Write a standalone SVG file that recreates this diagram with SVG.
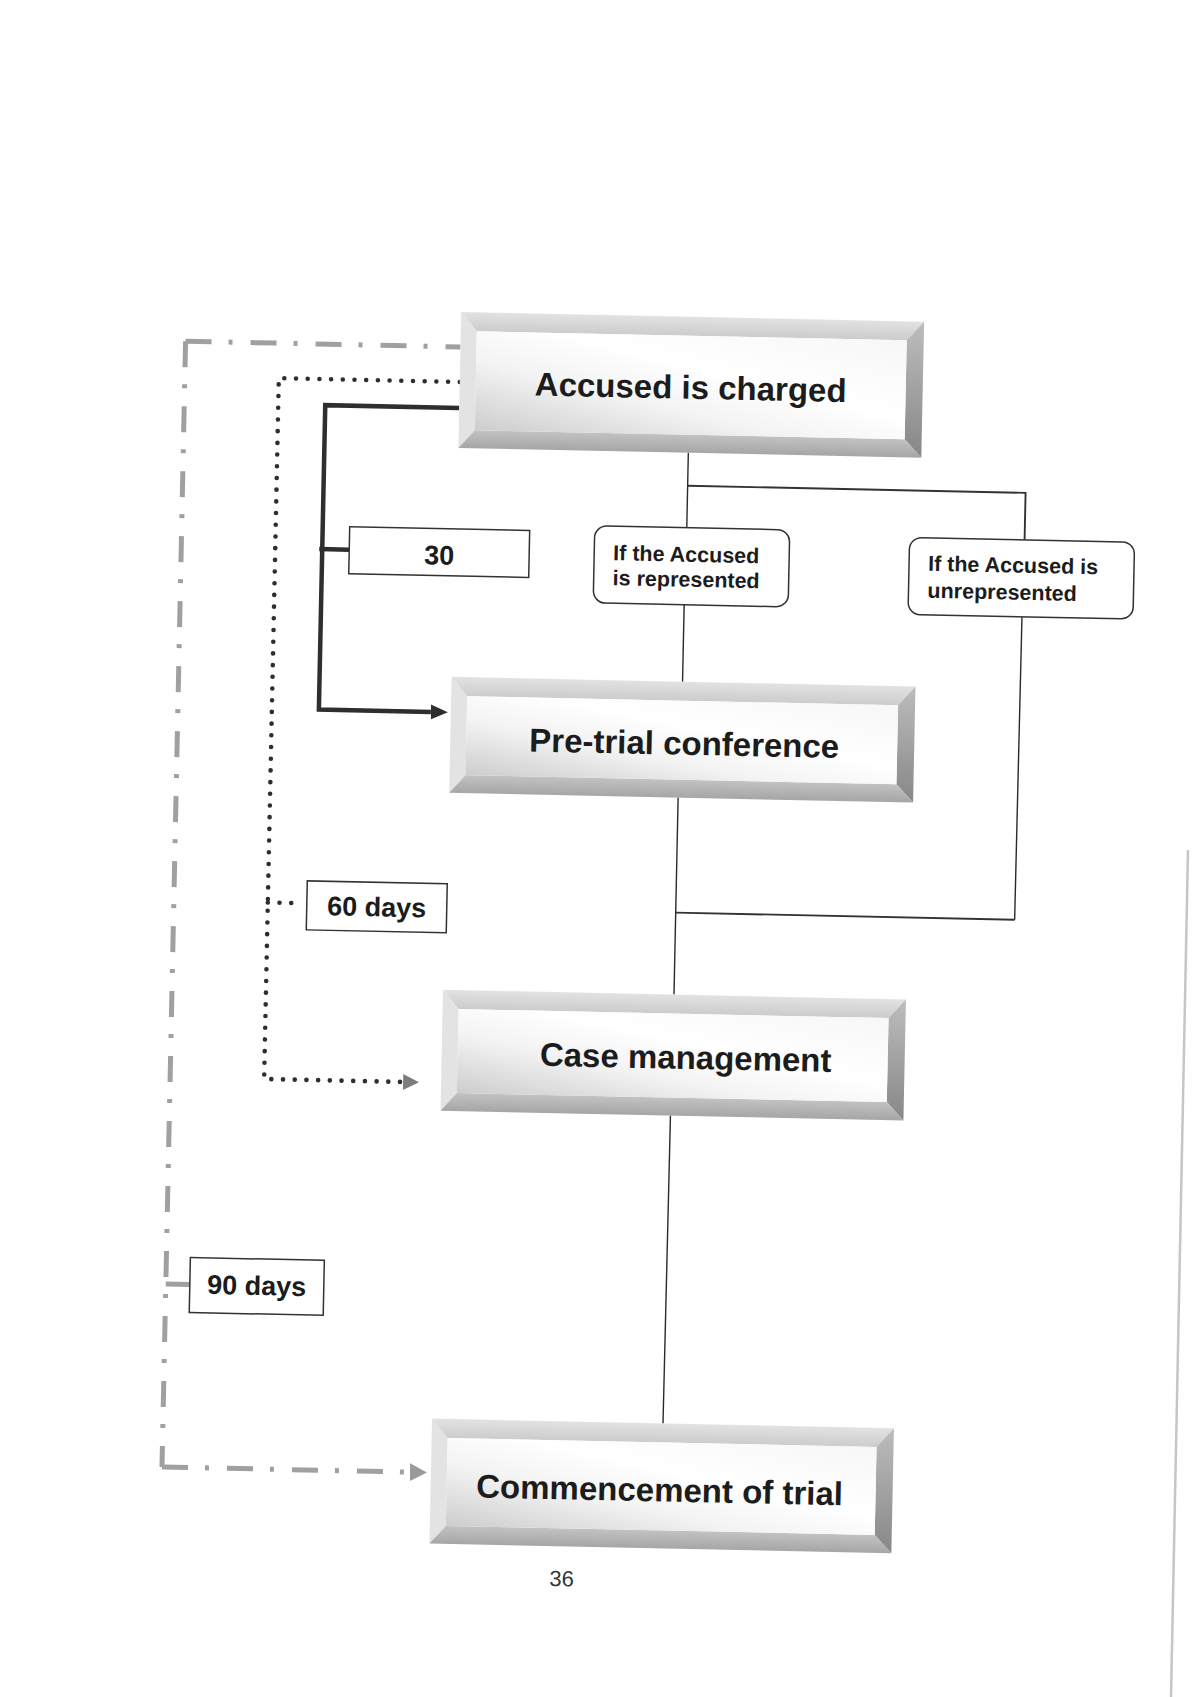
<svg xmlns="http://www.w3.org/2000/svg" width="1200" height="1697" viewBox="0 0 1200 1697">
<style>
.t{font-family:"Liberation Sans",Arial,sans-serif;font-weight:bold;fill:#1c1c1c}
.big{font-size:33px;text-anchor:middle}
.small{font-size:21.5px}
.lbl{font-size:27px;text-anchor:middle}
.num{font-size:27px;text-anchor:middle}
.pg{font-family:"Liberation Sans",Arial,sans-serif;font-size:22px;fill:#333;text-anchor:middle}
.bt{fill:url(#gTop)}
.bl{fill:#e3e3e3}
.br{fill:url(#gRight)}
.bb{fill:url(#gBot)}
.face{fill:url(#gFace)}
.thin{fill:none;stroke:#2a2a2a;stroke-width:1.4}
.fork{fill:none;stroke:#333;stroke-width:1.9}
.thick{fill:none;stroke:#2e2e2e;stroke-width:4.5}
.dot{fill:none;stroke:#2e2e2e;stroke-width:4.6;stroke-linecap:round;stroke-dasharray:0 11.7}
.dd{fill:none;stroke:#a0a0a0;stroke-width:5;stroke-dasharray:26 17 4 18}
.ddsolid{fill:none;stroke:#a0a0a0;stroke-width:5}
.box{fill:#fff;stroke:#333;stroke-width:1.5}
</style>
<defs>
<linearGradient id="gFace" x1="0" y1="1" x2="1" y2="0">
<stop offset="0" stop-color="#cdcdcd"/>
<stop offset="0.35" stop-color="#f3f3f3"/>
<stop offset="0.6" stop-color="#ffffff"/>
<stop offset="1" stop-color="#f7f7f7"/>
</linearGradient>
<linearGradient id="gTop" x1="0" y1="0" x2="0" y2="1">
<stop offset="0" stop-color="#e2e2e2"/>
<stop offset="1" stop-color="#cccccc"/>
</linearGradient>
<linearGradient id="gRight" x1="0" y1="0" x2="0" y2="1">
<stop offset="0" stop-color="#bdbdbd"/>
<stop offset="1" stop-color="#878787"/>
</linearGradient>
<linearGradient id="gBot" x1="0" y1="0" x2="0" y2="1">
<stop offset="0" stop-color="#c2c2c2"/>
<stop offset="1" stop-color="#a6a6a6"/>
</linearGradient>
<marker id="aThick" markerUnits="userSpaceOnUse" markerWidth="17" markerHeight="18" refX="0" refY="9" orient="auto">
<path d="M0,1.5 L17,9 L0,16.5 z" fill="#2e2e2e"/>
</marker>
<marker id="aDot" markerUnits="userSpaceOnUse" markerWidth="16" markerHeight="18" refX="0" refY="9" orient="auto">
<path d="M0,1 L16,9 L0,17 z" fill="#7d7d7d"/>
</marker>
<marker id="aDD" markerUnits="userSpaceOnUse" markerWidth="17" markerHeight="20" refX="0" refY="10" orient="auto">
<path d="M0,1 L17,10 L0,19 z" fill="#9a9a9a"/>
</marker>
</defs>
<rect width="1200" height="1697" fill="#ffffff"/>
<g transform="rotate(1.2 600 850)">
<g id="connectors">
<path class="thick" d="M450 411 L316 411 L316 715.5 L428 715.5" marker-end="url(#aThick)"/>
<path class="thick" d="M313 555 L343 555"/>
<path class="dot" d="M450 385 L269 385 L269 1086 L408 1086" marker-end="url(#aDot)"/>
<path class="dot" d="M269 909.5 L296 909.5"/>
<path class="dd" d="M175 350 L450 350"/>
<path class="dd" d="M175 350 L175 1476"/>
<path class="dd" d="M175 1476 L423 1476" marker-end="url(#aDD)"/>
<path class="ddsolid" d="M175 1293 L199 1293"/>
<path class="thin" d="M680 451 L680 526"/>
<path class="fork" d="M680 484 L1018 484 L1018 531"/>
<path class="thin" d="M679 603 L679 680"/>
<path class="thin" d="M1017 608 L1016 911"/>
<path class="fork" d="M1016 911 L677 911"/>
<path class="thin" d="M677 796 L677 993"/>
<path class="thin" d="M676 1114 L675 1422"/>
</g>
<g id="node-accused">
<polygon class="bt" points="450,315 913,315 896,334 466,334"/>
<polygon class="bl" points="450,315 466,334 466,433 450,451"/>
<polygon class="br" points="913,315 913,451 896,433 896,334"/>
<polygon class="bb" points="450,451 913,451 896,433 466,433"/>
<rect class="face" x="466" y="334" width="430" height="99"/>
<text class="t big" x="681" y="397">Accused is charged</text>
</g>
<g id="node-pretrial">
<polygon class="bt" points="448,680 912,680 895,699 464,699"/>
<polygon class="bl" points="448,680 464,699 464,778 448,796"/>
<polygon class="br" points="912,680 912,796 895,778 895,699"/>
<polygon class="bb" points="448,796 912,796 895,778 464,778"/>
<rect class="face" x="464" y="699" width="431" height="79"/>
<text class="t big" x="682" y="753">Pre-trial conference</text>
</g>
<g id="node-case">
<polygon class="bt" points="446,993 909,993 892,1012 462,1012"/>
<polygon class="bl" points="446,993 462,1012 462,1096 446,1114"/>
<polygon class="br" points="909,993 909,1114 892,1096 892,1012"/>
<polygon class="bb" points="446,1114 909,1114 892,1096 462,1096"/>
<rect class="face" x="462" y="1012" width="430" height="84"/>
<text class="t big" x="690" y="1067">Case management</text>
</g>
<g id="node-trial">
<polygon class="bt" points="444,1422 906,1422 889,1441 460,1441"/>
<polygon class="bl" points="444,1422 460,1441 460,1529 444,1547"/>
<polygon class="br" points="906,1422 906,1547 889,1529 889,1441"/>
<polygon class="bb" points="444,1547 906,1547 889,1529 460,1529"/>
<rect class="face" x="460" y="1441" width="429" height="88"/>
<text class="t big" x="673" y="1500">Commencement of trial</text>
</g>
<g id="node-represented">
<rect class="box" x="588" y="526" width="195" height="77" rx="12"/>
<text class="t small" x="607" y="560">If the Accused</text>
<text class="t small" x="607" y="585">is represented</text>
</g>
<g id="node-unrepresented">
<rect class="box" x="903" y="531" width="225" height="77" rx="12"/>
<text class="t small" x="922" y="564">If the Accused is</text>
<text class="t small" x="922" y="591">unrepresented</text>
</g>
<g id="label-30">
<rect class="box" x="343" y="532" width="180" height="47"/>
<text class="t num" x="433" y="568">30</text>
</g>
<g id="label-60">
<rect class="box" x="308" y="887" width="140" height="49"/>
<text class="t lbl" x="378" y="921">60 days</text>
</g>
<g id="label-90">
<rect class="box" x="199" y="1266" width="134" height="55"/>
<text class="t lbl" x="266" y="1302">90 days</text>
</g>
<text class="pg" x="577" y="1587">36</text>
</g>
<path d="M1188 850 L1171 1697" fill="none" stroke="#c6c6c6" stroke-width="2.5"/>
</svg>
